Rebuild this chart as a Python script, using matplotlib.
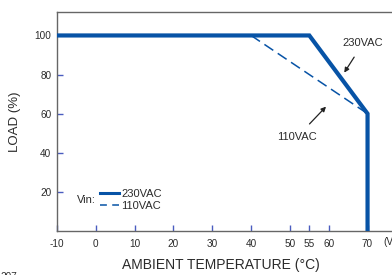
import matplotlib
matplotlib.use("Agg")
import matplotlib.pyplot as plt
from matplotlib.lines import Line2D

plt.rcParams['font.family'] = ['Liberation Sans', 'DejaVu Sans']
plt.rcParams['axes.unicode_minus'] = False

# derating curves (ambient temp in C, load in %)
temp_230 = [-10, 55, 70, 70]
load_230 = [100, 100, 60, 0]
temp_110 = [40, 70]
load_110 = [100, 60]

xticks = [-10, 0, 10, 20, 30, 40, 50, 55, 60, 70]
yticks = [20, 40, 60, 80, 100]

blue = '#0753a6'
tickc = '#4a5cc0'
textc = '#2b2b2b'

fig = plt.figure(figsize=(3.92, 2.75), dpi=100)
ax = fig.add_axes([57 / 392, 44 / 275, 1 - 57 / 392, 219 / 275])

ax.plot(temp_230, load_230, color=blue, lw=3.0, solid_joinstyle='miter',
        solid_capstyle='butt', clip_on=False, zorder=3)
ax.plot(temp_110, load_110, color=blue, lw=1.1, linestyle=(0, (7, 3.5)),
        zorder=3)

ax.set_xlim(-10, 76.3)
ax.set_ylim(0, 112)
ax.set_xticks(xticks)
ax.set_yticks(yticks)
ax.tick_params(direction='in', length=4, width=1, color=tickc,
               labelcolor=textc, labelsize=7.2, pad=4)
ax.tick_params(axis='x', pad=6)
ax.spines['right'].set_visible(False)
for s in ['left', 'bottom', 'top']:
    ax.spines[s].set_color('#666666')
    ax.spines[s].set_linewidth(1.0)

ax.set_ylabel('LOAD (%)', fontsize=9.5, color=textc, labelpad=10)
fig.text(221 / 392, 1 - 265 / 275, 'AMBIENT TEMPERATURE (°C)', fontsize=10,
         color=textc, ha='center', va='center')
fig.text(383 / 392, 1 - 242 / 275, '(VERTICAL)', fontsize=7.2, color=textc,
         ha='left', va='center')
fig.text(0.0, 0.012, '207', fontsize=7.2, color=textc, ha='left', va='top')

# callouts
ax.annotate('230VAC', xy=(64.0, 81.0), xytext=(68.8, 95.9), fontsize=8,
            color=textc, ha='center', va='center',
            arrowprops=dict(arrowstyle='-|>', color='#222222', lw=0.9,
                            shrinkA=5, shrinkB=0, mutation_scale=7))
ax.annotate('110VAC', xy=(59.3, 63.6), xytext=(51.9, 48.2), fontsize=8,
            color=textc, ha='center', va='center',
            arrowprops=dict(arrowstyle='-|>', color='#222222', lw=0.9,
                            shrinkA=5, shrinkB=0, mutation_scale=7))

# legend
handles = [Line2D([], [], color=blue, lw=2.2),
           Line2D([], [], color=blue, lw=1.1, linestyle=(0, (4.5, 3.5)))]
ax.legend(handles, ['230VAC', '110VAC'], loc='lower left',
          bbox_to_anchor=(0.128, 0.09), frameon=False, fontsize=8,
          handlelength=1.7, handletextpad=0.25, labelspacing=0.25,
          borderpad=0, borderaxespad=0, labelcolor=textc)
ax.text(0.06, 0.14, 'Vin:', transform=ax.transAxes, fontsize=8,
        color=textc, ha='left', va='center')

fig.savefig('out.png', dpi=100)
